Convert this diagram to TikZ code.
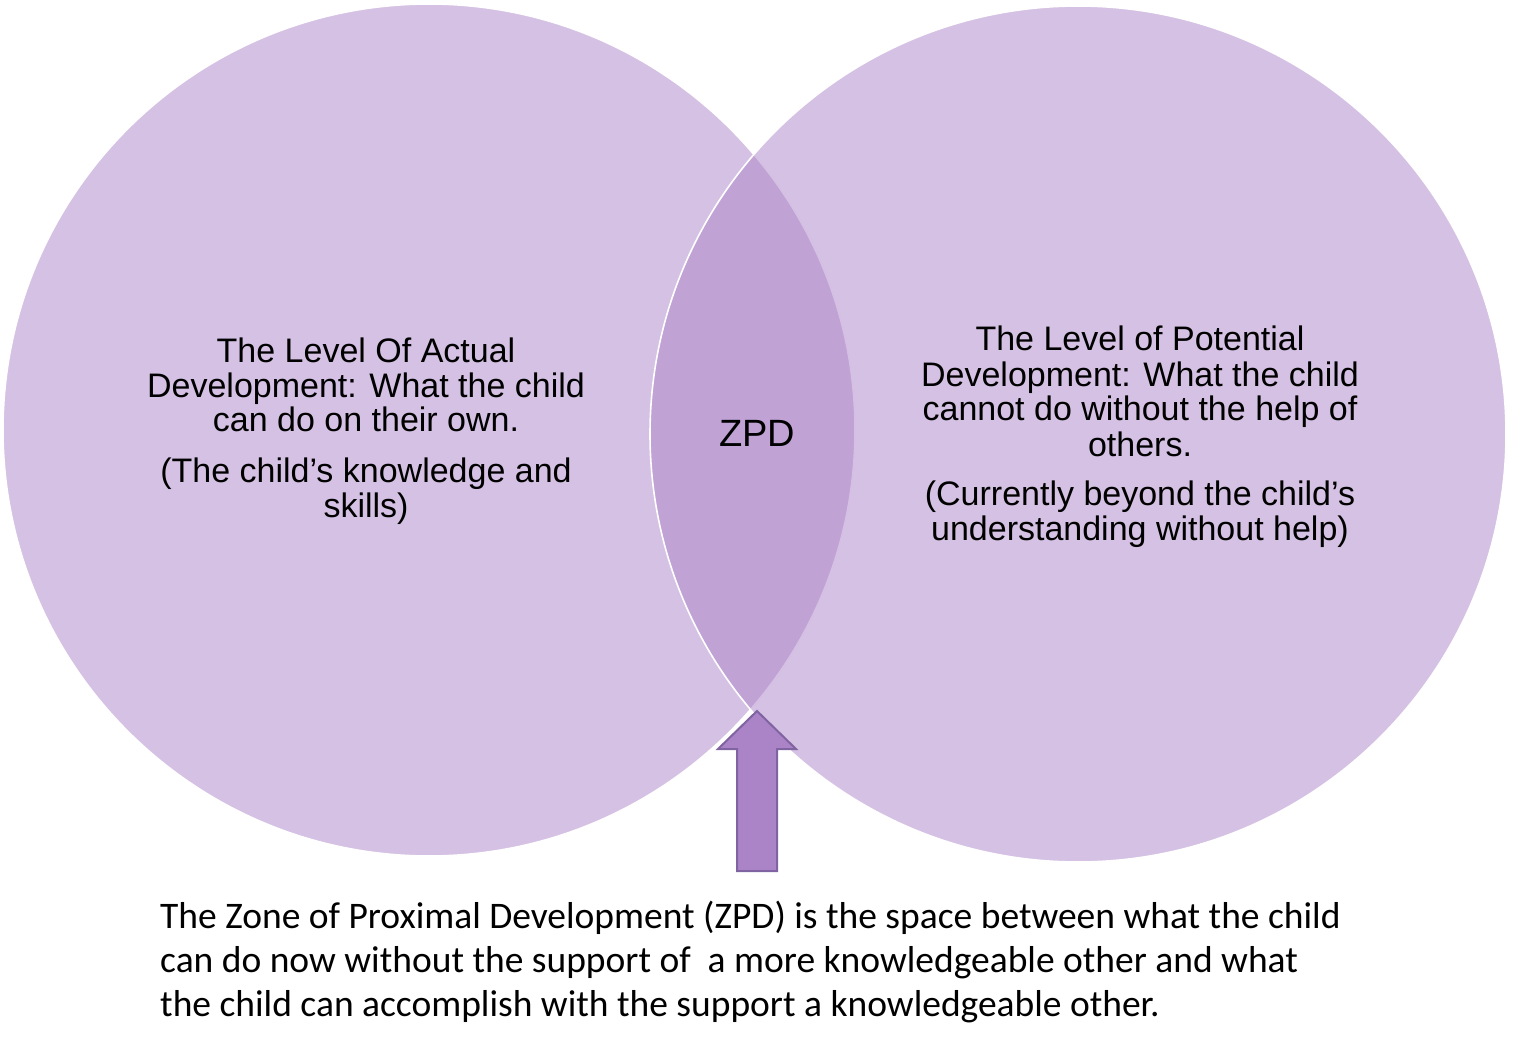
\documentclass[tikz,border=0pt]{standalone}
\usepackage{fontspec}
\setmainfont{Liberation Sans}
\newfontfamily\calfont{Carlito}
\definecolor{zpurple}{RGB}{171,131,199}
\definecolor{zborder}{RGB}{128,100,162}
\tikzset{
  circtext/.style={anchor=base, inner sep=0pt, font=\fontsize{34}{35}\selectfont, text=black},
  bottext/.style={anchor=base west, inner sep=0pt, font=\calfont\fontsize{37.5}{44}\selectfont, text=black},
  venn/.style={fill=zpurple, fill opacity=0.5, draw=white, draw opacity=1, line width=1.6pt}
}
\begin{document}
\begin{tikzpicture}[x=1pt,y=-1pt]
\useasboundingbox (0,0) rectangle (1540,1051);
% circles
\path[venn] (429,430) circle[radius=426];
\path[venn] (1078,434) circle[radius=428];
% arrow
\draw[fill=zpurple, draw=zborder, line width=2pt, line join=miter]
  (757,711) -- (796,749) -- (777,749) -- (777,871) -- (737,871) -- (737,749) -- (718,749) -- cycle;
% left text
\node[circtext] (l1) at (366,362) {The Level Of Actual};
\node[circtext] (l2) at (366,397) {Development: What the child};
\node[circtext] (l3) at (366,431) {can do on their own.};
\node[circtext] (l4) at (366,482) {(The child’s knowledge and};
\node[circtext] (l5) at (366,517) {skills)};
% ZPD
\node[circtext, font=\fontsize{38}{40}\selectfont] (zpd) at (757,446) {ZPD};
% right text
\node[circtext] (r1) at (1140,350) {The Level of Potential};
\node[circtext] (r2) at (1140,386) {Development: What the child};
\node[circtext] (r3) at (1140,420) {cannot do without the help of};
\node[circtext] (r4) at (1140,456) {others.};
\node[circtext] (r5) at (1140,505) {(Currently beyond the child’s};
\node[circtext] (r6) at (1140,540) {understanding without help)};
% bottom text
\node[bottext] (b1) at (160,928) {The Zone of Proximal Development (ZPD) is the space between what the child};
\node[bottext] (b2) at (160,972) {can do now without the support of\ \ a more knowledgeable other and what};
\node[bottext] (b3) at (160,1016) {the child can accomplish with the support a knowledgeable other.};
\end{tikzpicture}
\end{document}
